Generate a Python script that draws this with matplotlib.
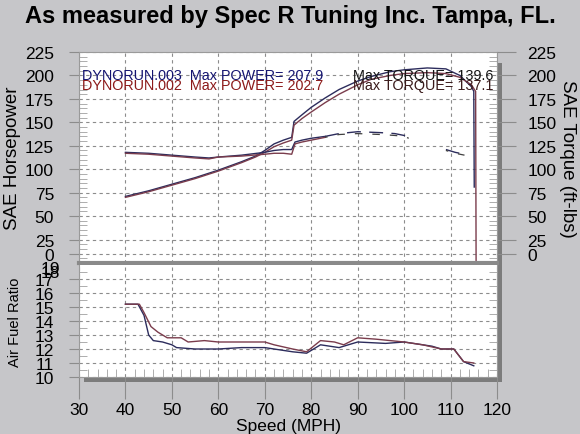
import matplotlib
matplotlib.use('Agg')
import matplotlib.pyplot as plt
from matplotlib.patches import Rectangle
import numpy as np

plt.rcParams['font.family'] = ['Liberation Sans', 'DejaVu Sans']

# horsepower, run .003 and run .002
hp_mph_003 = [40, 45, 50, 55, 60, 65, 68, 70, 72, 74, 75.8, 76.3, 78, 80, 83, 86, 90, 93, 97, 100, 105, 109, 112, 114.5, 115.0, 115.1]
hp_003 = [71, 77, 84, 91, 99, 108, 114, 120, 127, 131, 134, 151, 158, 166, 176, 185, 194, 199, 204, 206, 208, 207, 200, 188, 183, 81]
hp_mph_002 = [40, 45, 50, 55, 60, 65, 68, 70, 72, 74, 75.8, 76.3, 78, 80, 83, 86, 90, 93, 97, 100, 105, 109, 112, 114.5, 115.4, 115.5, 114.0]
hp_002 = [70, 76, 83, 90, 98, 107, 113, 118, 124, 128, 131, 147, 154, 161, 171, 180, 190, 196, 200, 202, 203, 202, 198, 190, 183, 0, 0]

# torque, solid part
tq_mph = [40, 45, 50, 55, 58, 60, 65, 70, 72, 74, 75.8, 76.5, 78, 80, 83]
tq_003 = [118, 117, 115, 113, 112, 113, 115, 118, 120, 121, 121, 129, 131, 133, 135]
tq_002 = [117, 116, 114, 112, 111, 113, 114, 116, 117, 117, 116, 127, 129, 131, 134]
# torque, broken tail
tq_tail_mph = [83, 86, 90, 95, 98, 100, 101, np.nan, 109, 111, 113]
tq_tail_003 = [135, 138, 140, 139, 138, 136, 134, np.nan, 121, 118, 116]
tq_tail_002 = [134, 137, 138, 137, 136, 135, 133, np.nan, 120, 117, 115]

# air fuel ratio
afr_mph_003 = [40, 42.7, 44, 45, 46, 48, 50, 51, 55, 60, 65, 70, 74, 76, 79, 82, 86, 90, 96, 100, 106, 108, 110.7, 112.8, 115]
afr_003 = [15.2, 15.2, 14.4, 13.0, 12.6, 12.5, 12.3, 12.1, 12.0, 12.0, 12.1, 12.1, 11.9, 11.8, 11.7, 12.3, 12.1, 12.5, 12.4, 12.5, 12.2, 12.0, 12.0, 11.1, 10.8]
afr_mph_002 = [40, 43, 44, 45.5, 47, 49, 52, 53.5, 57, 60, 65, 70, 72, 76, 79, 82, 85, 87, 90, 94, 100, 104, 108, 110.7, 112.8, 115]
afr_002 = [15.2, 15.2, 14.6, 13.6, 13.2, 12.8, 12.8, 12.5, 12.6, 12.5, 12.5, 12.5, 12.3, 12.0, 11.8, 12.6, 12.5, 12.3, 12.8, 12.7, 12.5, 12.3, 12.0, 12.0, 11.1, 11.0]

blue = '#2c2c5c'
red = '#7a3c4c'
grid_c = '#8c8c8c'
bg = '#c6c6c9'

fig = plt.figure(figsize=(5.8, 4.35), dpi=100, facecolor=bg)

L, R = 79 / 580, 497 / 580
top_up, bot_up = 1 - 53 / 435, 1 - 264 / 435
top_lo, bot_lo = 1 - 266 / 435, 1 - 378 / 435

# shadow behind the panels
fig.patches.append(Rectangle((L + 5 / 580, bot_lo - 5 / 435), R - L, top_up - bot_lo - 6 / 435,
                             transform=fig.transFigure, facecolor='#7c7c7c', zorder=-5))

ax = fig.add_axes([L, bot_up, R - L, top_up - bot_up])
ax2 = fig.add_axes([L, bot_lo, R - L, top_lo - bot_lo])
axr = ax.twinx()

for a in (ax, ax2):
    a.set_facecolor('white')
    a.set_xlim(30, 120)
    a.set_xticks(range(30, 121, 10))
    a.grid(True, color=grid_c, linestyle=(0, (3, 3)), linewidth=0.8)
    for s in a.spines.values():
        s.set_color('#9a9a9a')
        s.set_linewidth(0.8)
ax.spines['bottom'].set_color('#8a8a8a')
ax.spines['bottom'].set_linewidth(3)
ax2.spines['top'].set_visible(False)
for s in axr.spines.values():
    s.set_visible(False)

# upper panel
ax.set_ylim(0, 225)
yt = list(range(25, 226, 25))
ax.set_yticks([10] + yt)
ax.set_yticklabels(['0'] + [str(v) for v in yt], fontsize=12.5)
ax.tick_params(axis='x', length=0, labelbottom=False)
ax.tick_params(axis='y', length=7, color=grid_c, width=0.8, pad=11)
ax.set_yticks(np.arange(0, 226, 5), minor=True)
ax.tick_params(axis='y', which='minor', direction='in', length=6, color='#a0a0a0', width=0.6, right=True)
ax.set_ylabel('SAE Horsepower', fontsize=13.5, labelpad=3)

axr.set_ylim(0, 225)
axr.set_yticks([10] + yt)
axr.set_yticklabels(['0'] + [str(v) for v in yt], fontsize=12.5)
axr.tick_params(axis='y', length=14, color=grid_c, width=0.8, pad=8)
axr.set_ylabel('SAE Torque (ft-lbs)', fontsize=13.5, rotation=-90, labelpad=14)

ax.plot(hp_mph_003, hp_003, color=blue, lw=1.0)
ax.plot(hp_mph_002, hp_002, color=red, lw=1.0)
ax.plot(tq_mph, tq_003, color=blue, lw=1.0)
ax.plot(tq_mph, tq_002, color=red, lw=1.0)
ax.plot(tq_tail_mph, tq_tail_003, color=blue, lw=1.0, linestyle=(0, (10, 6)))
ax.plot(tq_tail_mph, tq_tail_002, color='#404040', lw=0.9, linestyle=(4, (6, 8)))

ax.text(0.008, 0.87, 'DYNORUN.003  Max POWER= 207.9', transform=ax.transAxes, color='#141470', fontsize=10.4)
ax.text(0.655, 0.87, 'Max TORQUE= 139.6', transform=ax.transAxes, color='#141414', fontsize=10.4)
ax.text(0.008, 0.825, 'DYNORUN.002  Max POWER= 202.7', transform=ax.transAxes, color='#8c1a1a', fontsize=10.4)
ax.text(0.655, 0.825, 'Max TORQUE= 137.1', transform=ax.transAxes, color='#3a1a1a', fontsize=10.4)

# lower panel
ax2.set_ylim(10, 18)
ax2.set_yticks(range(10, 18))
ax2.set_yticklabels([str(v) for v in range(10, 18)], fontsize=12.5)
ax2.tick_params(axis='y', length=7, color=grid_c, width=0.8, pad=11)
ax2.text(-0.045, 0.93, '18', transform=ax2.transAxes, fontsize=12.5, ha='right', va='center')
ax2.text(-0.045, 0.97, '19', transform=ax2.transAxes, fontsize=12.5, ha='right', va='center')
ax2.tick_params(axis='x', length=16, color=grid_c, width=0.8, labelsize=12.5, pad=2)
ax2.set_xticks(np.arange(30, 121, 2), minor=True)
ax2.tick_params(axis='x', which='minor', direction='in', length=6, color='#a0a0a0', width=0.6)
ax2.set_yticks(np.arange(10, 18, 0.5), minor=True)
ax2.tick_params(axis='y', which='minor', direction='in', length=6, color='#a0a0a0', width=0.6, right=True)
ax2.set_ylabel('Air Fuel Ratio', fontsize=10.5, labelpad=9)
ax2.set_xlabel('Speed (MPH)', fontsize=12.5, labelpad=1)

ax2.plot(afr_mph_003, afr_003, color=blue, lw=1.0)
ax2.plot(afr_mph_002, afr_002, color=red, lw=1.0)

fig.text(0.5, 0.963, 'As measured by Spec R Tuning Inc. Tampa, FL.', ha='center', va='center',
         fontsize=17, fontweight='bold')

fig.savefig('out.png', dpi=100, facecolor=bg)
